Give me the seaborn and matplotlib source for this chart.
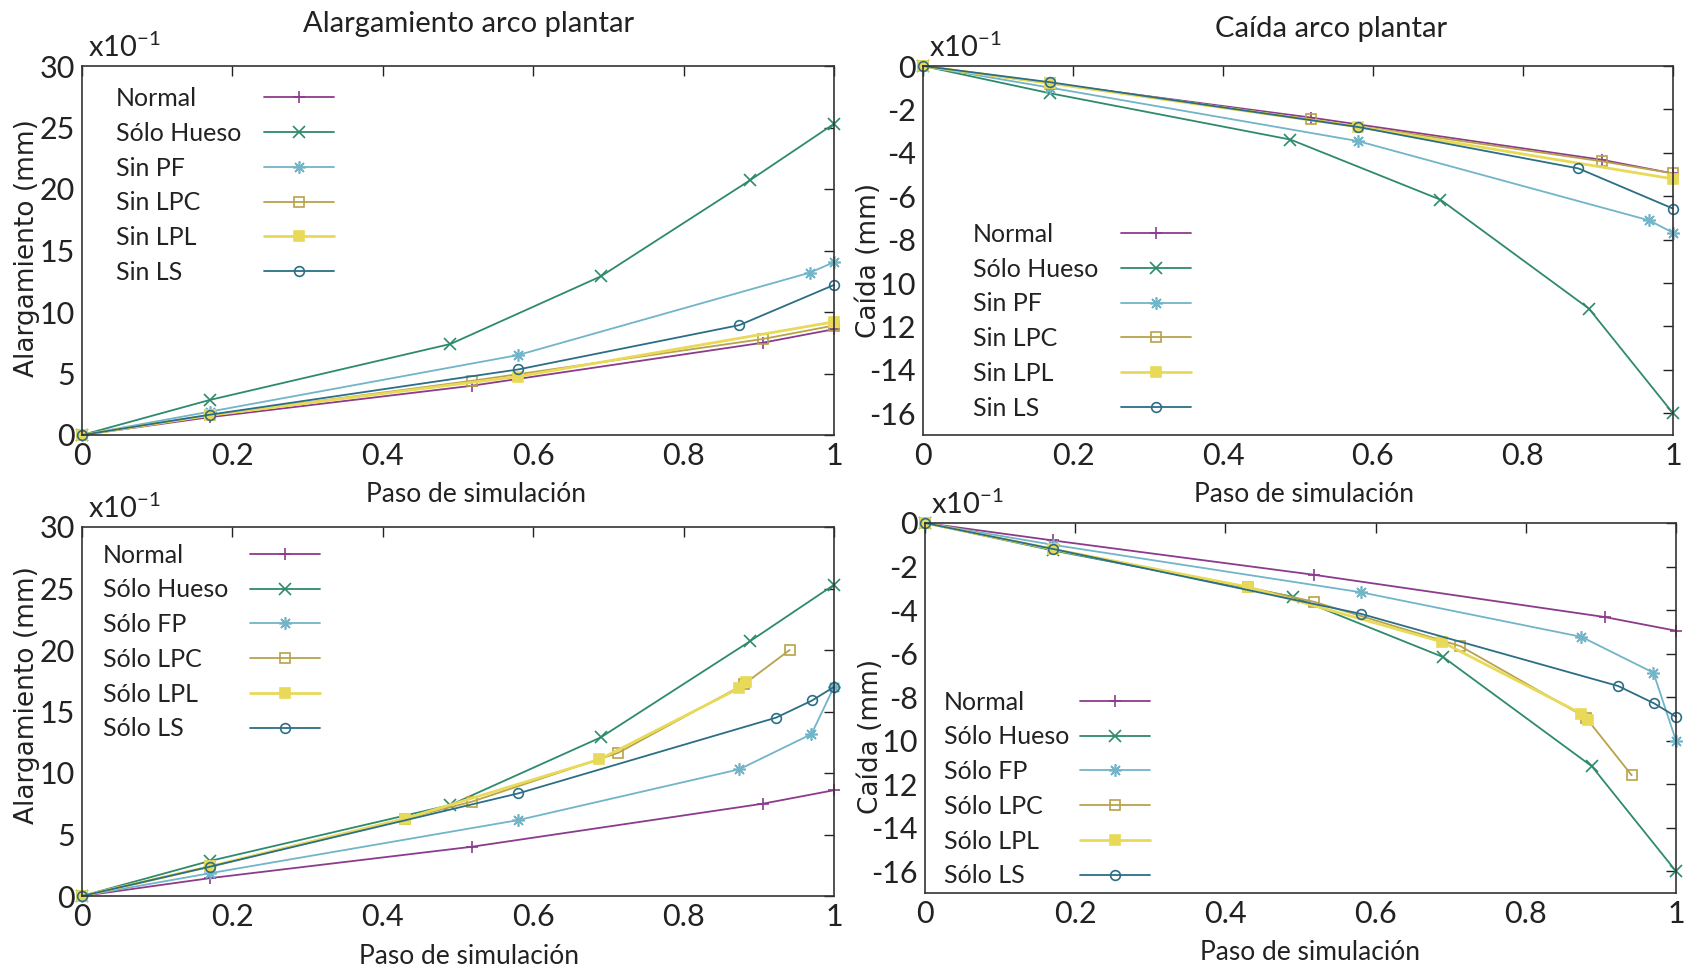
"""
Alargamiento y caída del arco plantar frente al paso de simulación
"""
import matplotlib
matplotlib.use('Agg')
import matplotlib.pyplot as plt
import seaborn as sns

# Valores (unidades x10^-1 mm)
paso_normal = [0, 0.17, 0.518, 0.905, 1]
alarg_normal = [0, 1.45, 4.0, 7.5, 8.6]
caida_normal = [0, -0.8, -2.38, -4.32, -4.95]

paso_hueso = [0, 0.17, 0.49, 0.69, 0.888, 1]
alarg_hueso = [0, 2.85, 7.4, 12.9, 20.7, 25.3]
caida_hueso = [0, -1.26, -3.39, -6.16, -11.18, -16.0]

# modelos "Sin ..."
paso_sin_pf = [0, 0.17, 0.58, 0.968, 1]
alarg_sin_pf = [0, 1.9, 6.5, 13.2, 14.05]
caida_sin_pf = [0, -1.0, -3.46, -7.11, -7.68]

paso_sin_lpc = [0, 0.17, 0.518, 0.905, 1]
alarg_sin_lpc = [0, 1.6, 4.4, 7.8, 8.9]
caida_sin_lpc = [0, -0.8, -2.46, -4.39, -4.95]

paso_sin_lpl = [0, 0.17, 0.58, 1]
alarg_sin_lpl = [0, 1.6, 4.75, 9.2]
caida_sin_lpl = [0, -0.8, -2.8, -5.2]

paso_sin_ls = [0, 0.17, 0.58, 0.874, 1]
alarg_sin_ls = [0, 1.65, 5.33, 8.93, 12.2]
caida_sin_ls = [0, -0.75, -2.81, -4.72, -6.57]

# modelos "Sólo ..."
paso_solo_fp = [0, 0.17, 0.58, 0.874, 0.97, 1]
alarg_solo_fp = [0, 1.85, 6.17, 10.3, 13.16, 17.0]
caida_solo_fp = [0, -1.0, -3.18, -5.23, -6.88, -10.0]

paso_solo_lpc = [0, 0.17, 0.43, 0.518, 0.713, 0.88, 0.941]
alarg_solo_lpc = [0, 2.4, 6.3, 7.66, 11.64, 17.2, 20.0]
caida_solo_lpc = [0, -1.2, -2.95, -3.62, -5.66, -8.94, -11.59]

paso_solo_lpl = [0, 0.17, 0.43, 0.688, 0.874, 0.883]
alarg_solo_lpl = [0, 2.4, 6.3, 11.1, 16.9, 17.4]
caida_solo_lpl = [0, -1.2, -2.94, -5.46, -8.76, -9.05]

paso_solo_ls = [0, 0.17, 0.58, 0.923, 0.971, 1]
alarg_solo_ls = [0, 2.38, 8.34, 14.5, 15.9, 17.0]
caida_solo_ls = [0, -1.19, -4.17, -7.49, -8.29, -8.9]

nombres_sin = ['Normal', 'Sólo Hueso', 'Sin PF', 'Sin LPC', 'Sin LPL', 'Sin LS']
nombres_solo = ['Normal', 'Sólo Hueso', 'Sólo FP', 'Sólo LPC', 'Sólo LPL', 'Sólo LS']

xticks = [0, 0.2, 0.4, 0.6, 0.8, 1]
xticklabels = ['0', '0.2', '0.4', '0.6', '0.8', '1']
alarg_ticks = [0, 5, 10, 15, 20, 25, 30]
caida_ticks = [0, -2, -4, -6, -8, -10, -12, -14, -16]

# estilos tipo gnuplot
estilos = [
    dict(color='#8c3b8c', marker='+', markersize=9, markerfacecolor='none', linewidth=1.3),
    dict(color='#2e8a6c', marker='x', markersize=8, markerfacecolor='none', linewidth=1.3),
    dict(color='#72b4c8', marker=(8, 2, 0), markersize=9, markerfacecolor='none', linewidth=1.3),
    dict(color='#b8a24a', marker='s', markersize=7, markerfacecolor='none', linewidth=1.3),
    dict(color='#e8da58', marker='s', markersize=7, markerfacecolor='#e8da58', linewidth=2.0),
    dict(color='#2b6e86', marker='o', markersize=7, markerfacecolor='none', linewidth=1.3),
]

sns.set_style('white')
plt.rcParams['font.family'] = ['Lato', 'DejaVu Sans']
plt.rcParams['axes.unicode_minus'] = False

fig = plt.figure(figsize=(16.9, 9.73), dpi=100)
W, H = 1690, 973


def caja(x0, x1, y0, y1):
    # rectángulo en píxeles -> fracción de figura
    return [x0 / W, 1 - y1 / H, (x1 - x0) / W, (y1 - y0) / H]


def dibujar_panel(rect, series, nombres, yticks, ylim, leyenda_pos, ancho_leyenda):
    ax = fig.add_axes(rect)
    for (paso, valores), nombre, estilo in zip(series, nombres, estilos):
        sns.lineplot(x=paso, y=valores, ax=ax, sort=False, estimator=None,
                     label=nombre, markeredgecolor=estilo['color'],
                     markeredgewidth=1.2, clip_on=False, **estilo)
    ax.set_xlim(0, 1)
    ax.set_ylim(*ylim)
    ax.set_xticks(xticks)
    ax.set_xticklabels(xticklabels)
    ax.set_yticks(yticks)
    ax.set_yticklabels([str(v) for v in yticks])
    ax.tick_params(direction='in', length=7, width=1, top=True, right=True,
                   labelsize=22, pad=5, colors='#222222')
    for s in ax.spines.values():
        s.set_color('#333333')
        s.set_linewidth(1.2)
    ax.set_xlabel('')
    ax.set_ylabel('')
    ax.text(0.008, 1.01, r'x10$^{\mathregular{-1}}$', transform=ax.transAxes,
            fontsize=21, va='bottom', ha='left', color='#222222')

    leg = ax.legend(loc='upper left', bbox_to_anchor=leyenda_pos, frameon=False,
                    markerfirst=False, handlelength=2.8, handletextpad=0.5,
                    labelspacing=0.47, borderpad=0, borderaxespad=0, fontsize=18)
    for t in leg.get_texts():
        t.set_color('#222222')
    # texto alineado a la izquierda y muestra a la derecha (como gnuplot)
    for columna in leg._legend_handle_box.get_children():
        for fila in columna.get_children():
            fila.mode = 'expand'
            fila.width = ancho_leyenda
    return ax


def etiqueta_y(x, y, texto, tapar=False):
    kw = {}
    if tapar:
        kw['bbox'] = dict(facecolor='white', edgecolor='none', pad=0.5)
    fig.text(x / W, 1 - y / H, texto, rotation=90, ha='center', va='center',
             family='DejaVu Sans', fontsize=19, color='#222222', zorder=5, **kw)


def etiqueta(x, y, texto, size=19):
    fig.text(x / W, 1 - y / H, texto, ha='center', va='center',
             fontsize=size, color='#222222')


series_al_sin = [(paso_normal, alarg_normal), (paso_hueso, alarg_hueso),
                 (paso_sin_pf, alarg_sin_pf), (paso_sin_lpc, alarg_sin_lpc),
                 (paso_sin_lpl, alarg_sin_lpl), (paso_sin_ls, alarg_sin_ls)]
series_ca_sin = [(paso_normal, caida_normal), (paso_hueso, caida_hueso),
                 (paso_sin_pf, caida_sin_pf), (paso_sin_lpc, caida_sin_lpc),
                 (paso_sin_lpl, caida_sin_lpl), (paso_sin_ls, caida_sin_ls)]
series_al_solo = [(paso_normal, alarg_normal), (paso_hueso, alarg_hueso),
                  (paso_solo_fp, alarg_solo_fp), (paso_solo_lpc, alarg_solo_lpc),
                  (paso_solo_lpl, alarg_solo_lpl), (paso_solo_ls, alarg_solo_ls)]
series_ca_solo = [(paso_normal, caida_normal), (paso_hueso, caida_hueso),
                  (paso_solo_fp, caida_solo_fp), (paso_solo_lpc, caida_solo_lpc),
                  (paso_solo_lpl, caida_solo_lpl), (paso_solo_ls, caida_solo_ls)]

dibujar_panel(caja(82, 834, 66, 435), series_al_sin, nombres_sin,
              alarg_ticks, (0, 30), (0.045, 0.943), 218)
dibujar_panel(caja(923, 1673, 66, 435), series_ca_sin, nombres_sin,
              caida_ticks, (-17, 0), (0.067, 0.575), 218)
dibujar_panel(caja(82, 834, 527, 896), series_al_solo, nombres_solo,
              alarg_ticks, (0, 30), (0.028, 0.955), 217)
dibujar_panel(caja(925, 1676, 523, 893), series_ca_solo, nombres_solo,
              caida_ticks, (-17, 0), (0.025, 0.547), 206)

etiqueta(469, 24, 'Alargamiento arco plantar', size=21)
etiqueta(1331, 29, 'Caída arco plantar', size=21)
etiqueta(476, 494, 'Paso de simulación')
etiqueta(1304, 494, 'Paso de simulación')
etiqueta(469, 956, 'Paso de simulación')
etiqueta(1310, 952, 'Paso de simulación')

etiqueta_y(27, 248, 'Alargamiento (mm)')
etiqueta_y(869, 260, 'Caída (mm)', tapar=True)
etiqueta_y(27, 695, 'Alargamiento (mm)')
etiqueta_y(871, 736, 'Caída (mm)', tapar=True)

plt.savefig('out.png', dpi=100)
plt.close()
